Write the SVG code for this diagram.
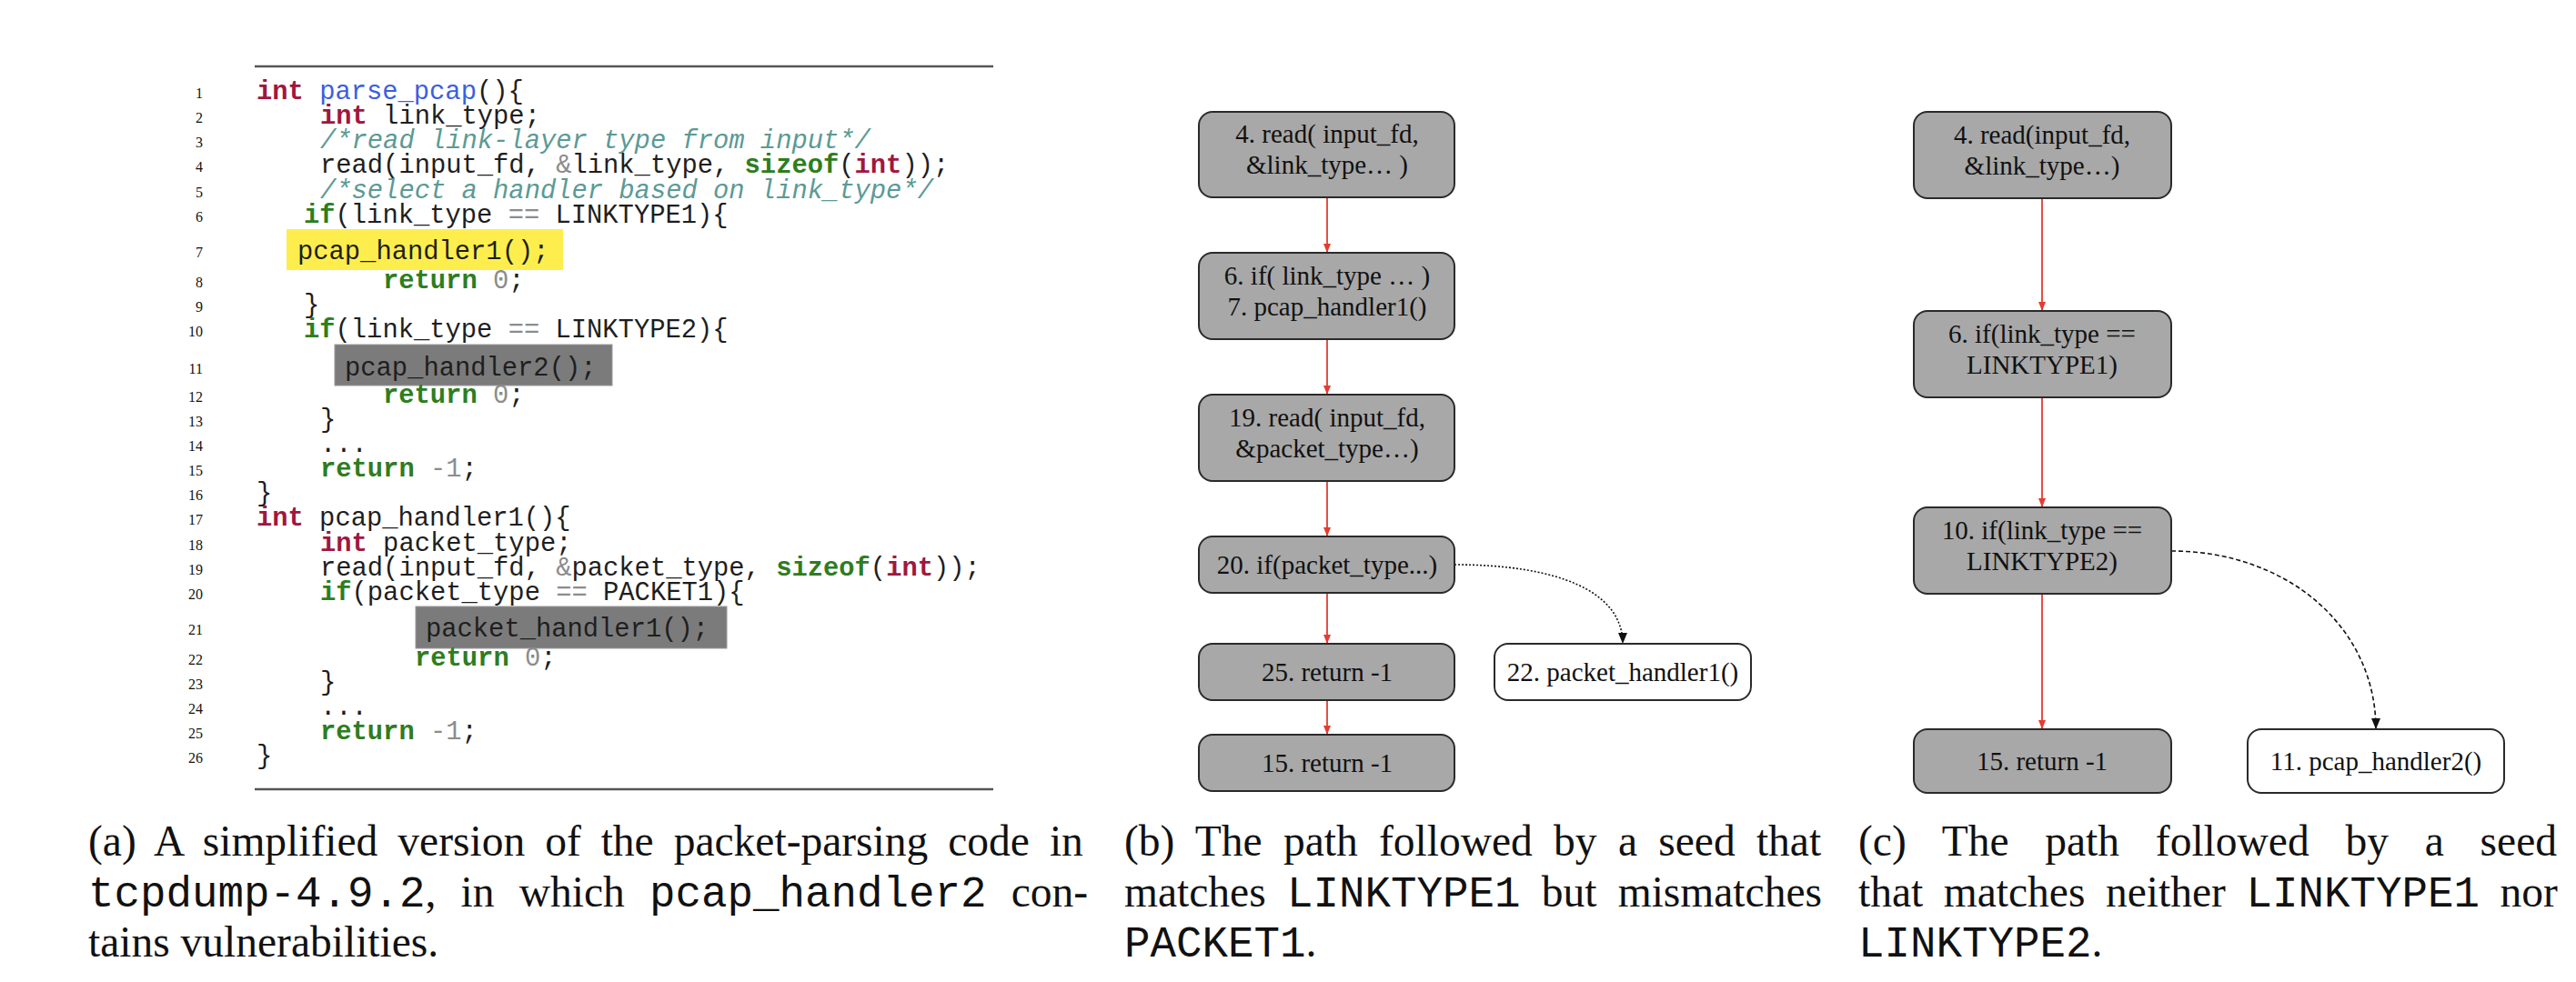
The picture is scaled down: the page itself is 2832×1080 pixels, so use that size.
<svg xmlns="http://www.w3.org/2000/svg" width="2832" height="1080" viewBox="0 0 2832 1080">
<style>
.code{font-family:"Liberation Mono",monospace;font-size:28.8px;fill:#1e1e1e}
.kw{fill:#a0173f;font-weight:bold}
.ctl{fill:#2e7d1e;font-weight:bold}
.fn{fill:#3b5fe0}
.cm{fill:#5b9a95;font-style:italic}
.op{fill:#8c8c8c}
.ln{font-family:"Liberation Serif",serif;font-size:16px;fill:#111;text-anchor:end}
.rule{stroke:#555;stroke-width:2.5}
.node{stroke:#2a2a2a;stroke-width:2}
.g{fill:#a8a8a8}
.w{fill:#ffffff}
.nt{font-family:"Liberation Serif",serif;font-size:29px;fill:#111;text-anchor:middle}
.red{stroke:#e53b30;stroke-width:1.8;fill:none}
.blk{stroke:#111;stroke-width:1.6;fill:none}
.cap{font-family:"Liberation Serif",serif;font-size:47.5px;fill:#111}
.tt{font-family:"Liberation Mono",monospace}
</style>
<defs>
<marker id="ar" markerUnits="userSpaceOnUse" markerWidth="10" markerHeight="8" refX="10" refY="4" orient="auto"><path d="M0,0 L10,4 L0,8 z" fill="#e53b30"/></marker>
<marker id="ab" markerUnits="userSpaceOnUse" markerWidth="12" markerHeight="10" refX="12" refY="5" orient="auto"><path d="M0,0 L12,5 L0,10 z" fill="#111"/></marker>
</defs>
<rect width="2832" height="1080" fill="#fff"/>

<g id="code">
<line class="rule" x1="280" y1="73" x2="1092" y2="73"/>
<line class="rule" x1="280" y1="868" x2="1092" y2="868"/>
<rect x="315" y="252" width="304" height="45" fill="#fdee4e"/>
<rect x="368" y="379" width="305" height="45" fill="#7b7b7b" stroke="#999" stroke-width="1"/>
<rect x="457" y="667" width="342" height="46" fill="#7b7b7b" stroke="#999" stroke-width="1"/>
<text class="ln" x="223" y="108">1</text>
<text class="ln" x="223" y="135">2</text>
<text class="ln" x="223" y="162">3</text>
<text class="ln" x="223" y="189">4</text>
<text class="ln" x="223" y="217">5</text>
<text class="ln" x="223" y="244">6</text>
<text class="ln" x="223" y="283">7</text>
<text class="ln" x="223" y="316">8</text>
<text class="ln" x="223" y="343">9</text>
<text class="ln" x="223" y="370">10</text>
<text class="ln" x="223" y="411">11</text>
<text class="ln" x="223" y="442">12</text>
<text class="ln" x="223" y="469">13</text>
<text class="ln" x="223" y="496">14</text>
<text class="ln" x="223" y="523">15</text>
<text class="ln" x="223" y="550">16</text>
<text class="ln" x="223" y="577">17</text>
<text class="ln" x="223" y="605">18</text>
<text class="ln" x="223" y="632">19</text>
<text class="ln" x="223" y="659">20</text>
<text class="ln" x="223" y="698">21</text>
<text class="ln" x="223" y="731">22</text>
<text class="ln" x="223" y="758">23</text>
<text class="ln" x="223" y="785">24</text>
<text class="ln" x="223" y="812">25</text>
<text class="ln" x="223" y="839">26</text>

<text class="code" x="282" y="109"><tspan class="kw">int</tspan> <tspan class="fn">parse_pcap</tspan>(){</text>
<text class="code" x="352" y="136"><tspan class="kw">int</tspan> link_type;</text>
<text class="code cm" x="352" y="163">/*read link-layer type from input*/</text>
<text class="code" x="352" y="190">read(input_fd, <tspan class="op">&amp;</tspan>link_type, <tspan class="ctl">sizeof</tspan>(<tspan class="kw">int</tspan>));</text>
<text class="code cm" x="352" y="218">/*select a handler based on link_type*/</text>
<text class="code" x="334" y="245"><tspan class="ctl">if</tspan>(link_type <tspan class="op">==</tspan> LINKTYPE1){</text>
<text class="code" x="327" y="285">pcap_handler1();</text>
<text class="code" x="421" y="317"><tspan class="ctl">return</tspan> <tspan class="op">0</tspan>;</text>
<text class="code" x="334" y="344">}</text>
<text class="code" x="334" y="371"><tspan class="ctl">if</tspan>(link_type <tspan class="op">==</tspan> LINKTYPE2){</text>
<text class="code" x="379" y="413">pcap_handler2();</text>
<text class="code" x="421" y="443"><tspan class="ctl">return</tspan> <tspan class="op">0</tspan>;</text>
<text class="code" x="352" y="470">}</text>
<text class="code" x="352" y="497">...</text>
<text class="code" x="352" y="524"><tspan class="ctl">return</tspan> <tspan class="op">-1</tspan>;</text>
<text class="code" x="282" y="551">}</text>
<text class="code" x="282" y="578"><tspan class="kw">int</tspan> pcap_handler1(){</text>
<text class="code" x="352" y="606"><tspan class="kw">int</tspan> packet_type;</text>
<text class="code" x="352" y="633">read(input_fd, <tspan class="op">&amp;</tspan>packet_type, <tspan class="ctl">sizeof</tspan>(<tspan class="kw">int</tspan>));</text>
<text class="code" x="352" y="660"><tspan class="ctl">if</tspan>(packet_type <tspan class="op">==</tspan> PACKET1){</text>
<text class="code" x="468" y="700">packet_handler1();</text>
<text class="code" x="456" y="732"><tspan class="ctl">return</tspan> <tspan class="op">0</tspan>;</text>
<text class="code" x="352" y="759">}</text>
<text class="code" x="352" y="786">...</text>
<text class="code" x="352" y="813"><tspan class="ctl">return</tspan> <tspan class="op">-1</tspan>;</text>
<text class="code" x="282" y="840">}</text>
</g>

<g id="connectors">
<line class="red" x1="1459" y1="217" x2="1459" y2="278" marker-end="url(#ar)"/>
<line class="red" x1="1459" y1="373" x2="1459" y2="434" marker-end="url(#ar)"/>
<line class="red" x1="1459" y1="529" x2="1459" y2="590" marker-end="url(#ar)"/>
<line class="red" x1="1459" y1="652" x2="1459" y2="708" marker-end="url(#ar)"/>
<line class="red" x1="1459" y1="770" x2="1459" y2="808" marker-end="url(#ar)"/>
<path class="blk" d="M1599,621 C1712,621 1784,650 1784,708" stroke-dasharray="2,2" marker-end="url(#ab)"/>
<line class="red" x1="2245" y1="218" x2="2245" y2="342" marker-end="url(#ar)"/>
<line class="red" x1="2245" y1="437" x2="2245" y2="558" marker-end="url(#ar)"/>
<line class="red" x1="2245" y1="653" x2="2245" y2="802" marker-end="url(#ar)"/>
<path class="blk" d="M2387,606 C2515,606 2612,690 2612,802" stroke-dasharray="5,3" marker-end="url(#ab)"/>
</g>

<g id="b-n4"><rect class="node g" x="1318" y="123" width="281" height="94" rx="15"/><text class="nt" x="1459" y="157">4. read( input_fd,</text><text class="nt" x="1459" y="191">&amp;link_type… )</text></g>
<g id="b-n6"><rect class="node g" x="1318" y="278" width="281" height="95" rx="15"/><text class="nt" x="1459" y="313">6. if( link_type … )</text><text class="nt" x="1459" y="347">7. pcap_handler1()</text></g>
<g id="b-n19"><rect class="node g" x="1318" y="434" width="281" height="95" rx="15"/><text class="nt" x="1459" y="469">19. read( input_fd,</text><text class="nt" x="1459" y="503">&amp;packet_type…)</text></g>
<g id="b-n20"><rect class="node g" x="1318" y="590" width="281" height="62" rx="15"/><text class="nt" x="1459" y="631">20. if(packet_type...)</text></g>
<g id="b-n25"><rect class="node g" x="1318" y="708" width="281" height="62" rx="15"/><text class="nt" x="1459" y="749">25. return -1</text></g>
<g id="b-n15"><rect class="node g" x="1318" y="808" width="281" height="62" rx="15"/><text class="nt" x="1459" y="849">15. return -1</text></g>
<g id="b-n22"><rect class="node w" x="1643" y="708" width="282" height="62" rx="15"/><text class="nt" x="1784" y="749">22. packet_handler1()</text></g>

<g id="c-n4"><rect class="node g" x="2104" y="123" width="283" height="95" rx="15"/><text class="nt" x="2245" y="158">4. read(input_fd,</text><text class="nt" x="2245" y="192">&amp;link_type…)</text></g>
<g id="c-n6"><rect class="node g" x="2104" y="342" width="283" height="95" rx="15"/><text class="nt" x="2245" y="377">6. if(link_type ==</text><text class="nt" x="2245" y="411">LINKTYPE1)</text></g>
<g id="c-n10"><rect class="node g" x="2104" y="558" width="283" height="95" rx="15"/><text class="nt" x="2245" y="593">10. if(link_type ==</text><text class="nt" x="2245" y="627">LINKTYPE2)</text></g>
<g id="c-n15"><rect class="node g" x="2104" y="802" width="283" height="70" rx="15"/><text class="nt" x="2245" y="847">15. return -1</text></g>
<g id="c-n11"><rect class="node w" x="2471" y="802" width="282" height="70" rx="15"/><text class="nt" x="2612" y="847">11. pcap_handler2()</text></g>

<g id="captions">
<text class="cap" x="97" y="941" style="word-spacing:10.1px">(a) A simplified version of the packet-parsing code in</text>
<text class="cap" x="97" y="997" style="word-spacing:15.3px"><tspan class="tt">tcpdump-4.9.2</tspan>, in which <tspan class="tt">pcap_handler2</tspan> con-</text>
<text class="cap" x="97" y="1052">tains vulnerabilities.</text>
<text class="cap" x="1236" y="941" style="word-spacing:11.4px">(b) The path followed by a seed that</text>
<text class="cap" x="1236" y="997" style="word-spacing:11.4px">matches <tspan class="tt">LINKTYPE1</tspan> but mismatches</text>
<text class="cap" x="1236" y="1052"><tspan class="tt">PACKET1</tspan>.</text>
<text class="cap" x="2043" y="941" style="word-spacing:27.9px">(c) The path followed by a seed</text>
<text class="cap" x="2043" y="997" style="word-spacing:10.7px">that matches neither <tspan class="tt">LINKTYPE1</tspan> nor</text>
<text class="cap" x="2043" y="1052"><tspan class="tt">LINKTYPE2</tspan>.</text>
</g>
</svg>
